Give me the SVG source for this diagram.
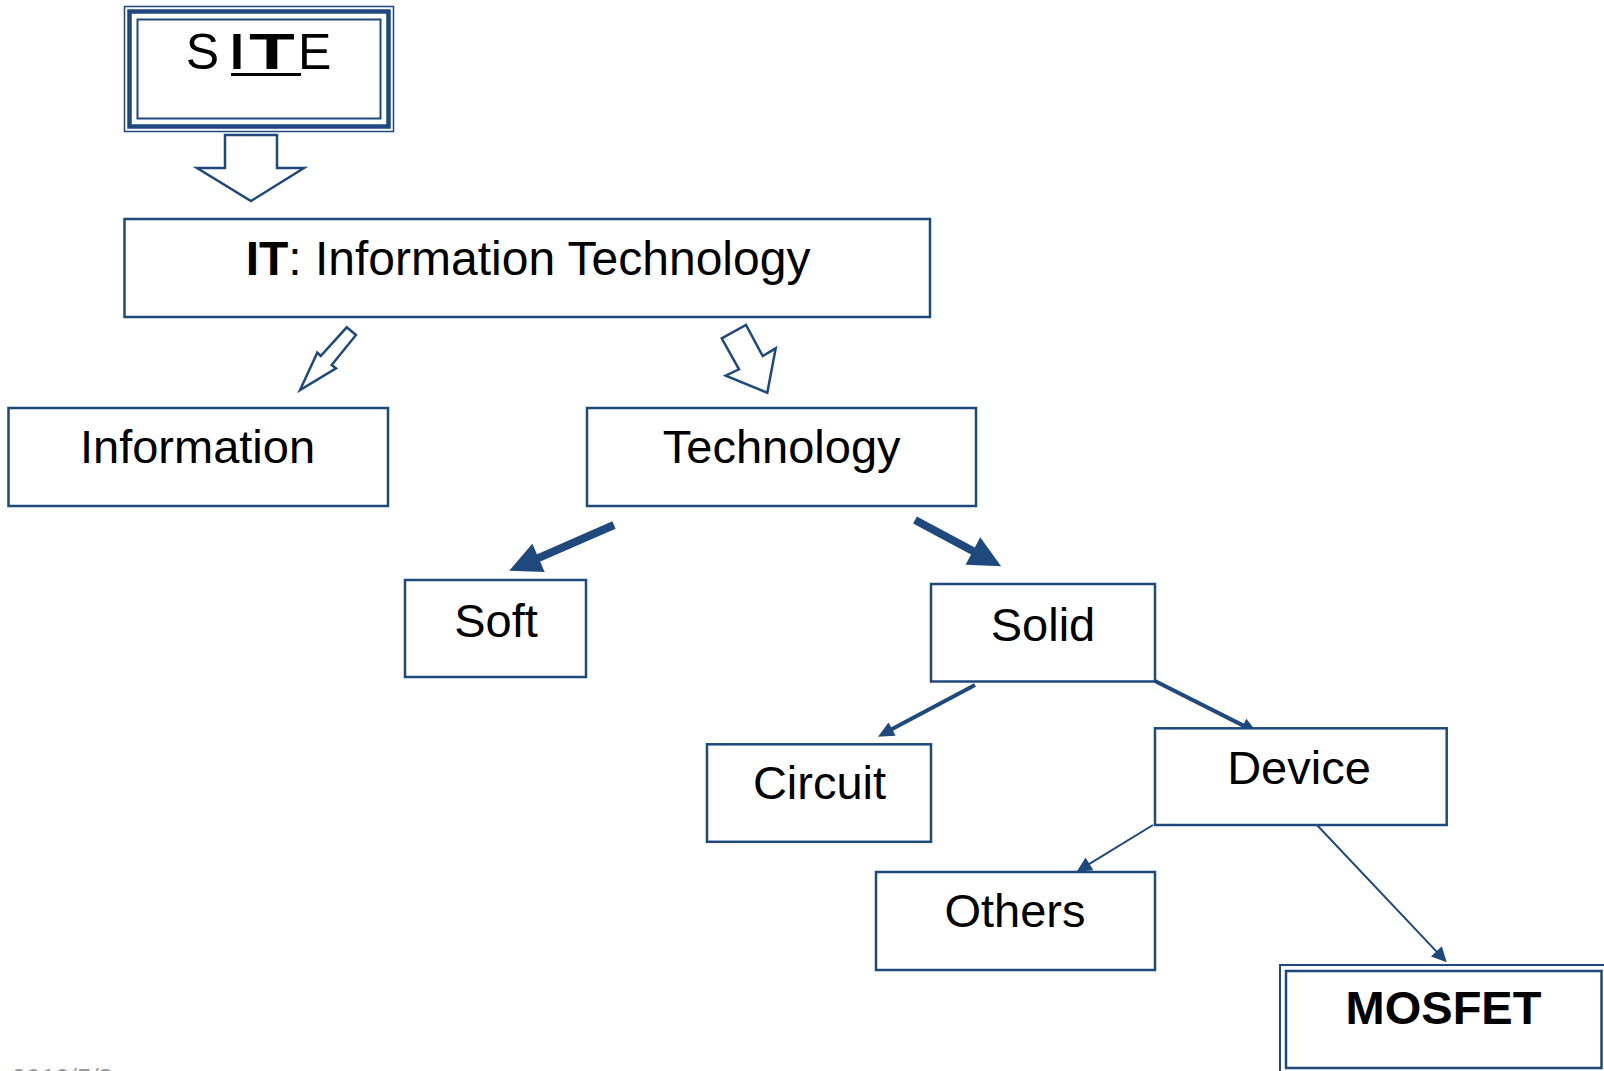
<svg xmlns="http://www.w3.org/2000/svg" width="1604" height="1071" viewBox="0 0 1604 1071">
<style>
.box{fill:#fff;stroke:#1F497D;stroke-width:2.5}
.t{font-family:"Liberation Sans",Arial,Helvetica,sans-serif;font-size:47px;fill:#000;text-anchor:middle}
.b{font-weight:bold}
.hollow{fill:#fff;stroke:#1F497D;stroke-width:2.5;stroke-linejoin:miter}
.c{stroke:#1F497D;fill:none;stroke-linecap:butt}
.foot{font-family:"Liberation Sans",Arial,sans-serif;font-size:26px;font-style:italic;fill:#9a9a9a}
</style>
<defs>
<marker id="hL" markerUnits="userSpaceOnUse" viewBox="-1 -16 32 32" refX="0" refY="0" markerWidth="32" markerHeight="32" orient="auto" overflow="visible"><path d="M-1,-15.5 L31,0 L-1,15.5 z" fill="#1F497D"/></marker>
<marker id="hM" markerUnits="userSpaceOnUse" viewBox="-1 -8 16 16" refX="0" refY="0" markerWidth="16" markerHeight="16" orient="auto" overflow="visible"><path d="M-1,-7.5 L15,0 L-1,7.5 z" fill="#1F497D"/></marker>
<marker id="hS" markerUnits="userSpaceOnUse" viewBox="-1 -8 16 16" refX="0" refY="0" markerWidth="16" markerHeight="16" orient="auto" overflow="visible"><path d="M-1,-7.5 L14,0 L-1,7.5 z" fill="#1F497D"/></marker>
</defs>

<g id="connectors">
<polygon class="hollow" points="225,135 277,135 277,168 304,168 251,201 197,168 225,168"/>
<polygon class="hollow" points="346.7,327.3 356,335 331.7,365 336,368.3 300,390 317.3,352.7 320.7,356"/>
<polygon class="hollow" points="721.7,338.3 746,325 762.7,356 775.7,348.3 767.3,392.7 725.7,375.7 739,369.3"/>
<line class="c" stroke-width="8" x1="614" y1="525" x2="537.6" y2="558.3" marker-end="url(#hL)"/>
<line class="c" stroke-width="8" x1="915" y1="520" x2="973.8" y2="551.5" marker-end="url(#hL)"/>
<line class="c" stroke-width="4" x1="975" y1="685" x2="891.2" y2="729.6" marker-end="url(#hM)"/>
<line class="c" stroke-width="4" x1="1155" y1="681" x2="1243.9" y2="725.9" marker-end="url(#hM)"/>
<line class="c" stroke-width="2" x1="1153" y1="825" x2="1088.6" y2="864.4" marker-end="url(#hS)"/>
<line class="c" stroke-width="2" x1="1316" y1="824" x2="1437.1" y2="952.1" marker-end="url(#hS)"/>
</g>

<g id="site">
<rect x="124.5" y="6.5" width="269" height="125" fill="#fff" stroke="#1F497D" stroke-width="1.5"/>
<rect x="129.5" y="11.5" width="259" height="115" fill="none" stroke="#1F497D" stroke-width="4.5"/>
<rect x="137.5" y="19.5" width="243" height="99" fill="none" stroke="#1F497D" stroke-width="2"/>
<text class="t" style="font-size:50px;text-anchor:start" x="185.7" y="69">S</text>
<text class="t b" style="font-size:50px;text-anchor:start" x="230" y="69">I</text>
<text class="t b" style="font-size:50px;text-anchor:start" transform="translate(249,69) scale(1.5,1)" x="0" y="0">T</text>
<text class="t" style="font-size:50px;text-anchor:start" x="298" y="69">E</text>
<rect x="231" y="73" width="70" height="3" fill="#000"/>
</g>

<g id="it">
<rect class="box" x="124.5" y="219" width="805.5" height="98"/>
<text class="t" style="font-size:48px" x="528" y="275"><tspan class="b">IT</tspan>: Information Technology</text>
</g>

<g id="information">
<rect class="box" x="8.5" y="408" width="379.5" height="98"/>
<text class="t" x="197.5" y="462.5">Information</text>
</g>

<g id="technology">
<rect class="box" x="587" y="408" width="389" height="98"/>
<text class="t" x="781.7" y="462.5">Technology</text>
</g>

<g id="soft">
<rect class="box" x="405" y="580" width="181" height="97"/>
<text class="t" x="496" y="636.5">Soft</text>
</g>

<g id="solid">
<rect class="box" x="931" y="584" width="224" height="97.5"/>
<text class="t" x="1043" y="640.5">Solid</text>
</g>

<g id="circuit">
<rect class="box" x="707" y="744.3" width="224" height="97.5"/>
<text class="t" x="819.5" y="798.5">Circuit</text>
</g>

<g id="device">
<rect class="box" x="1155" y="728.3" width="291.7" height="96.7"/>
<text class="t" x="1299" y="783.5">Device</text>
</g>

<g id="others">
<rect class="box" x="876" y="872" width="279" height="98"/>
<text class="t" x="1015" y="927">Others</text>
</g>

<g id="mosfet">
<rect x="1280" y="965" width="330" height="120" fill="#fff" stroke="#1F497D" stroke-width="2"/>
<rect x="1286" y="971" width="315.5" height="97" fill="none" stroke="#1F497D" stroke-width="2.5"/>
<text class="t b" x="1443.5" y="1024">MOSFET</text>
</g>

<text class="foot" x="10" y="1087">2012/5/8</text>
</svg>
